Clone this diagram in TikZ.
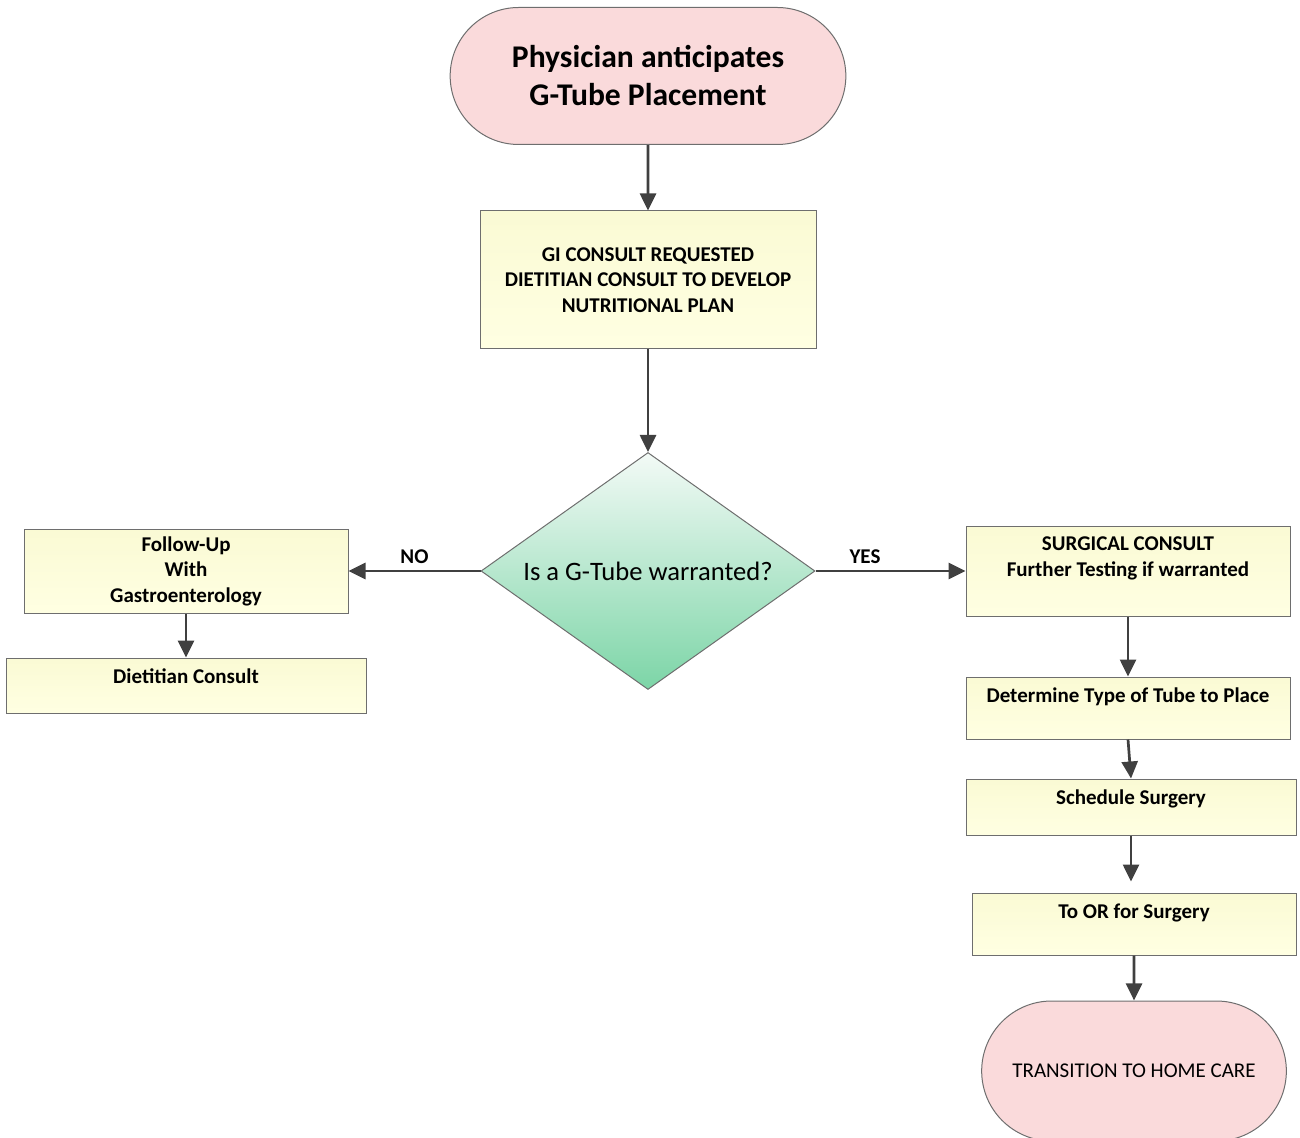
\documentclass[tikz,border=0pt]{standalone}
\usepackage{fontspec}
\setmainfont{Carlito}
\usetikzlibrary{arrows.meta,positioning,shapes.geometric,shapes.misc}
\definecolor{termpink}{RGB}{250,218,219}
\definecolor{edgegray}{RGB}{110,110,110}
\definecolor{arrowgray}{RGB}{64,64,64}
\definecolor{boxtop}{RGB}{250,250,212}
\definecolor{boxbottom}{RGB}{255,255,226}
\definecolor{diatop}{RGB}{243,250,246}
\definecolor{diabottom}{RGB}{124,213,167}
\tikzset{
    %Define standard arrow tip
    >={Triangle[width=8pt,length=8.5pt]},
    %Define style for start and end
    term/.style={
           rounded rectangle,
           draw=edgegray, line width=0.5pt,
           fill=termpink,
           align=center},
    %Define style for boxes
    procbox/.style={
           rectangle,
           draw=edgegray, line width=0.5pt,
           top color=boxtop, bottom color=boxbottom,
           font=\bfseries\fontsize{10.5}{12.75}\selectfont,
           align=center},
    boxtext/.style={
           anchor=north, inner sep=0pt,
           font=\bfseries\fontsize{10.5}{12.75}\selectfont,
           align=center},
    decision/.style={
           diamond, aspect=1.41,
           draw=edgegray, line width=0.5pt,
           top color=diatop, bottom color=diabottom,
           inner sep=0pt,
           minimum width=167pt, minimum height=118.5pt,
           font=\fontsize{13.3}{16}\selectfont},
    % Define arrow style
    pil/.style={
           ->,
           draw=arrowgray,
           line width=1.35pt},
    flowlabel/.style={
           above, inner sep=3pt,
           font=\bfseries\fontsize{10.5}{12.75}\selectfont}
}
\begin{document}
\begin{tikzpicture}[x=0.5pt,y=-0.5pt]
\useasboundingbox (0,0) rectangle (1300,1138);
% main column
\node[term, minimum width=204.5pt, minimum height=68.5pt,
      font=\bfseries\fontsize{15.8}{19}\selectfont] (start) at (648,76)
      {Physician anticipates\\G-Tube Placement};
\node[procbox, minimum width=168pt, minimum height=69pt] (gi) at (648,280)
      {GI CONSULT REQUESTED\\DIETITIAN CONSULT TO DEVELOP\\NUTRITIONAL PLAN};
\node[decision] (ask) at (648,571) {Is a G-Tube warranted?};
% NO branch
\node[procbox, minimum width=162pt, minimum height=42pt] (follow) at (186,571)
      {Follow-Up\\With\\Gastroenterology};
\node[procbox, minimum width=180pt, minimum height=27.5pt] (diet) at (186,685.5) {};
\node[boxtext] (diettext) at ([yshift=-5.5pt]diet.north) {Dietitian Consult};
% YES branch
\node[procbox, minimum width=162pt, minimum height=45pt] (surg) at (1128,571) {};
\node[boxtext] (surgtext) at ([yshift=-5.5pt]surg.north)
      {SURGICAL CONSULT\\Further Testing if warranted};
\node[procbox, minimum width=162pt, minimum height=31pt] (tube) at (1128,708) {};
\node[boxtext] (tubetext) at ([yshift=-5.5pt]tube.north) {Determine Type of Tube to Place};
\node[procbox, minimum width=165pt, minimum height=28pt] (sched) at (1131,807) {};
\node[boxtext] (schedtext) at ([yshift=-5.5pt]sched.north) {Schedule Surgery};
\node[procbox, minimum width=162pt, minimum height=31pt] (toor) at (1134,924) {};
\node[boxtext] (toortext) at ([yshift=-5.5pt]toor.north) {To OR for Surgery};
\node[term, minimum width=159pt, minimum height=70pt,
      font=\fontsize{10.5}{12.75}\selectfont] (home) at (1134,1071)
      {TRANSITION TO HOME CARE};
% connectors
\draw[pil] (start) -- (gi);
\draw[pil] (gi) -- (ask);
\draw[pil] (ask) -- node[flowlabel] {NO} (follow);
\draw[pil] (ask) -- node[flowlabel, pos=0.33] {YES} (surg);
\draw[pil] (follow) -- (diet);
\draw[pil] (surg) -- (tube);
\draw[pil] (tube.south) -- (sched.north);
\draw[pil, shorten >=5.5pt] (sched) -- (sched |- toor.north);
\draw[pil] (toor) -- (home);
\end{tikzpicture}
\end{document}
